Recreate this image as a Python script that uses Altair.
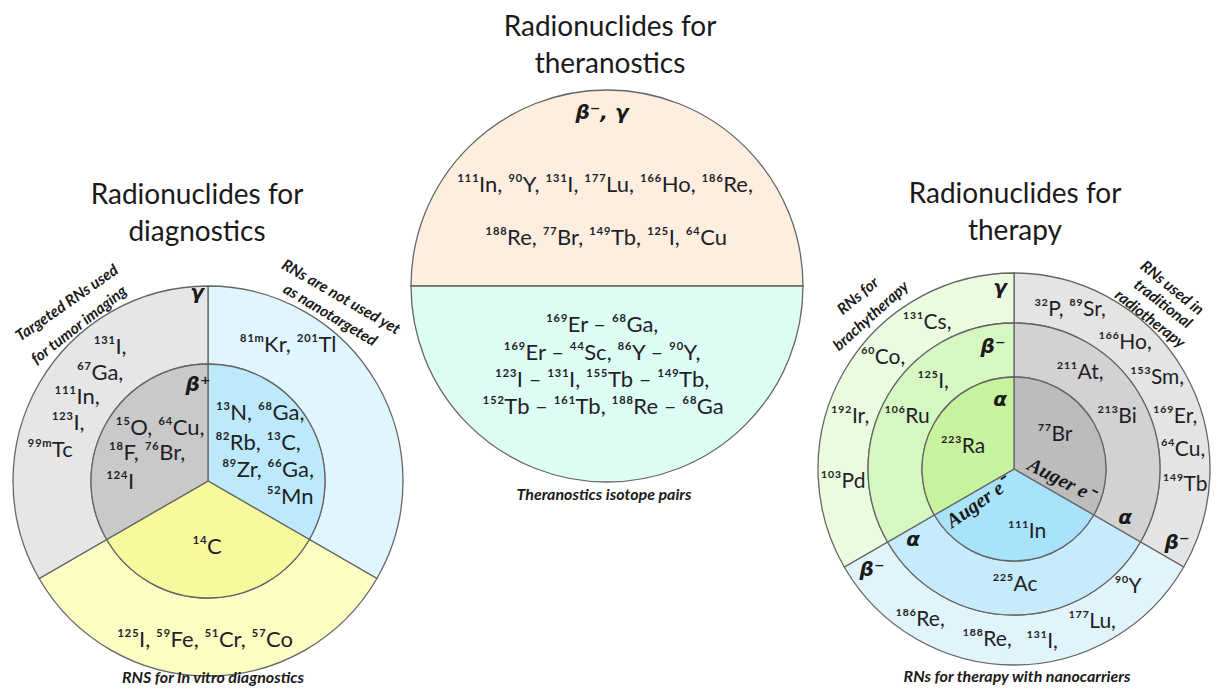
import math
import altair as alt
import pandas as pd

# ---------------- data ----------------
# Diagnostics diagram: three sectors (clockwise from 12 o'clock), two rings
diag_sectors = ["RNs not used yet as nanotargeted", "RNs for in vitro diagnostics", "Targeted RNs for tumor imaging"]
diag_shares = [1, 1, 1]

# Theranostics diagram: two halves
thera_halves = ["Radionuclides for theranostics", "Theranostics isotope pairs"]
thera_shares = [1, 1]

# Therapy diagram: three sectors, three rings
therapy_sectors = ["RNs used in traditional radiotherapy", "RNs for therapy with nanocarriers", "RNs for brachytherapy"]
therapy_shares = [1, 1, 1]

titles = ["Radionuclides for", "diagnostics", "Radionuclides for", "theranostics", "Radionuclides for", "therapy"]

diag_nuclides = ["¹³¹I,", "⁶⁷Ga,", "¹¹¹In,", "¹²³I,", "⁹⁹ᵐTc", "⁸¹ᵐKr, ²⁰¹Tl",
                 "¹⁵O, ⁶⁴Cu,", "¹⁸F, ⁷⁶Br,", "¹²⁴I",
                 "¹³N, ⁶⁸Ga,", "⁸²Rb, ¹³C,", "⁸⁹Zr, ⁶⁶Ga,", "⁵²Mn",
                 "¹⁴C", "¹²⁵I, ⁵⁹Fe, ⁵¹Cr, ⁵⁷Co"]
thera_nuclides = ["¹¹¹In, ⁹⁰Y, ¹³¹I, ¹⁷⁷Lu, ¹⁶⁶Ho, ¹⁸⁶Re,", "¹⁸⁸Re, ⁷⁷Br, ¹⁴⁹Tb, ¹²⁵I, ⁶⁴Cu",
                  "¹⁶⁹Er – ⁶⁸Ga,", "¹⁶⁹Er – ⁴⁴Sc, ⁸⁶Y – ⁹⁰Y,",
                  "¹²³I – ¹³¹I, ¹⁵⁵Tb – ¹⁴⁹Tb,", "¹⁵²Tb – ¹⁶¹Tb, ¹⁸⁸Re – ⁶⁸Ga"]
therapy_nuclides = ["¹³¹Cs,", "⁶⁰Co,", "¹²⁵I,", "¹⁹²Ir,", "¹⁰⁶Ru", "²²³Ra", "¹⁰³Pd",
                    "³²P, ⁸⁹Sr,", "¹⁶⁶Ho,", "²¹¹At,", "¹⁵³Sm,", "²¹³Bi", "¹⁶⁹Er,", "⁷⁷Br", "⁶⁴Cu,", "¹⁴⁹Tb",
                    "¹¹¹In", "²²⁵Ac", "⁹⁰Y", "¹⁸⁶Re,", "¹⁷⁷Lu,", "¹⁸⁸Re,", "¹³¹I,"]
decay_labels = ["γ", "β⁺", "β⁻, γ", "γ", "β⁻", "α", "α", "α", "β⁻", "β⁻"]
auger_labels = ["Auger e⁻", "Auger e⁻"]
side_notes = ["Targeted  RNs used", "for tumor imaging", "RNs are not used yet", "as nanotargeted",
              "RNs for", "brachytherapy", "RNs used in", "traditional", "radiotherapy"]
captions = ["RNS for In vitro  diagnostics", "Theranostics  isotope pairs", "RNs for therapy  with nanocarriers"]

# ---------------- layout (pixels) ----------------
W, H = 1204, 679
DIAG_C, THERA_C, THER_C = (200, 473), (599, 278), (1006, 461)
STROKE = "#666666"

title_pos = [(189, 188), (189, 225), (602, 20), (602, 57), (1007, 187), (1007, 224)]
diag_pos = [(102, 339), (92, 365), (69, 389), (60, 415), (42, 442), (280, 337),
            (152, 420), (139, 445), (112, 474),
            (252, 405), (250, 435), (260, 462), (282, 489),
            (199, 539), (197, 632)]
thera_pos = [(597, 177), (598, 230), (594, 317), (594, 345), (594, 372), (595, 399)]
therapy_pos = [(919, 315), (875, 350), (925, 374), (842, 409), (899, 409), (955, 439), (835, 474),
               (1062, 302), (1117, 335), (1072, 365), (1149, 370), (1109, 409), (1167, 409), (1047, 427),
               (1175, 442), (1177, 477),
               (1019, 524), (1007, 577), (1120, 579), (912, 612), (1084, 614), (979, 632), (1034, 634)]
decay_pos = [(189, 285), (190, 377), (594, 105), (992, 280), (985, 339), (992, 392),
             (1117, 510), (905, 532), (1169, 535), (864, 562)]
auger_pos = [(1053, 472, 27), (970, 495, -35)]
note_pos = [(59, 295, -35), (71, 317, -38), (333, 289, 30), (322, 307, 31),
            (850, 288, -40), (863, 308, -42), (1164, 280, 39), (1155, 296, 38), (1142, 311, 38)]
caption_pos = [(205, 670), (596, 487), (1009, 669)]

FULL = [0, 2 * math.pi]
HALF_TOP_FIRST = [-math.pi / 2, 3 * math.pi / 2]


def ring(sectors, shares, colors, center, r_out, r_in, trange=FULL):
    df = pd.DataFrame({"sector": sectors, "share": shares, "idx": list(range(len(sectors)))})
    return alt.Chart(df).mark_arc(outerRadius=r_out, innerRadius=r_in, stroke=STROKE,
                                  strokeWidth=1.3).encode(
        theta=alt.Theta("share:Q", stack=True, scale=alt.Scale(range=trange)),
        order=alt.Order("idx:Q"),
        color=alt.Color("sector:N", scale=alt.Scale(domain=sectors, range=colors), legend=None),
        x=alt.value(center[0]), y=alt.value(center[1]),
    )


def texts(labels, pos, font, size, weight="normal", style="normal", color="#1f1f28"):
    rows = []
    for lab, p in zip(labels, pos):
        rows.append({"label": lab, "x": p[0], "y": p[1], "angle": (p[2] % 360) if len(p) > 2 else 0})
    df = pd.DataFrame(rows)
    return alt.Chart(df).mark_text(font=font, fontSize=size, fontWeight=weight, fontStyle=style,
                                   color=color, align="center", baseline="middle").encode(
        x=alt.X("x:Q", scale=None), y=alt.Y("y:Q", scale=None),
        text="label:N", angle=alt.Angle("angle:Q", scale=None),
    )


layers = [
    ring(diag_sectors, diag_shares, ["#e0f5fd", "#fbfdc2", "#e6e6e6"], DIAG_C, 195, 117),
    ring(diag_sectors, diag_shares, ["#bdeafb", "#f7f99c", "#c9c9c9"], DIAG_C, 117, 0),
    ring(thera_halves, thera_shares, ["#fdeee0", "#ddfcf4"], THERA_C, 196, 0, HALF_TOP_FIRST),
    ring(therapy_sectors, therapy_shares, ["#e4e4e4", "#e1f4fc", "#ebfbe0"], THER_C, 196, 146),
    ring(therapy_sectors, therapy_shares, ["#d2d2d2", "#c6ebfb", "#d7f7c2"], THER_C, 146, 92),
    ring(therapy_sectors, therapy_shares, ["#bcbcbc", "#a8e3fb", "#c7f39e"], THER_C, 92, 0),
    texts(titles, title_pos, "Lato", 28, color="#1a1a1a"),
    texts(diag_nuclides, diag_pos, "Lato", 22),
    texts(thera_nuclides, thera_pos, "Lato", 22),
    texts(therapy_nuclides, therapy_pos, "Lato", 21),
    texts(decay_labels, decay_pos, "DejaVu Sans", 20, weight="bold", style="italic", color="#1a1a1a"),
    texts(auger_labels, auger_pos, "Liberation Serif", 20, weight="bold", style="italic", color="#1a1a1a"),
    texts(side_notes, note_pos, "Lato", 15.5, weight="bold", style="italic", color="#1a1a1a"),
    texts(captions, caption_pos, "Lato", 16, weight="bold", style="italic", color="#1a1a1a"),
]

chart = alt.layer(*layers).resolve_scale(theta="independent", color="independent").properties(
    width=W, height=H, padding=0, autosize="none"
).configure_view(stroke=None)

chart.save("out.html", embed_options={"renderer": "svg", "actions": False})
